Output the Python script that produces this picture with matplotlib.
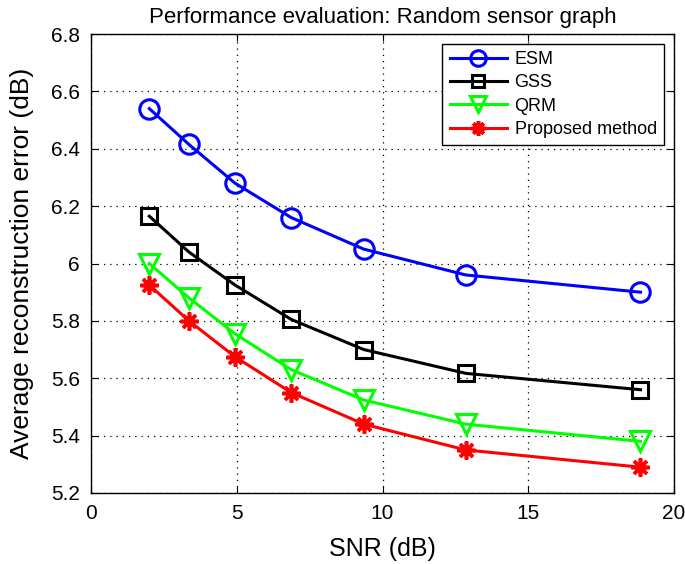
import matplotlib
matplotlib.use('Agg')
import matplotlib.pyplot as plt

snr = [2.0, 3.36, 4.94, 6.87, 9.36, 12.86, 18.85]
esm = [6.54, 6.415, 6.28, 6.16, 6.05, 5.96, 5.90]
gss = [6.165, 6.04, 5.925, 5.805, 5.70, 5.617, 5.56]
qrm = [6.0, 5.88, 5.755, 5.63, 5.524, 5.44, 5.38]
proposed = [5.925, 5.80, 5.675, 5.55, 5.44, 5.35, 5.29]

xticks = [0, 5, 10, 15, 20]
yticks = [5.2, 5.4, 5.6, 5.8, 6.0, 6.2, 6.4, 6.6, 6.8]
ytick_labels = ['5.2', '5.4', '5.6', '5.8', '6', '6.2', '6.4', '6.6', '6.8']

plt.rcParams['font.family'] = ['Liberation Sans', 'DejaVu Sans']
plt.rcParams['font.size'] = 12

fig = plt.figure(figsize=(6.85, 5.64), dpi=100)
ax = fig.add_axes([91/685, 1 - 493/564, 583/685, 459/564])

lw = 2.2
mew = 2.2
ax.plot(snr, esm, '-o', color='#0000ff', lw=lw, ms=14, mew=mew, mfc='none', label='ESM')
ax.plot(snr, gss, '-s', color='black', lw=lw, ms=11.5, mew=mew, mfc='none', label='GSS')
ax.plot(snr, qrm, '-v', color='#00ff00', lw=lw, ms=14, mew=mew, mfc='none', label='QRM')
ax.plot(snr, proposed, '-', marker=(8, 2, 0), color='#ff0000', lw=lw, ms=13, mew=2.6,
        label='Proposed method')

ax.set_xlim(0, 20)
ax.set_ylim(5.2, 6.8)
ax.set_xticks(xticks)
ax.set_yticks(yticks)
ax.set_yticklabels(ytick_labels)
ax.tick_params(direction='in', top=True, right=True, labelsize=15, length=5, pad=8)
ax.grid(True, linestyle=(0, (1, 4)), color='black', lw=0.9)
for s in ax.spines.values():
    s.set_linewidth(1.0)

ax.set_xlabel('SNR (dB)', fontsize=18, labelpad=10)
ax.set_ylabel('Average reconstruction error (dB)', fontsize=19, labelpad=12)
ax.set_title('Performance evaluation: Random sensor graph', fontsize=16, pad=8)

leg = ax.legend(loc='upper right', fontsize=13, fancybox=False, framealpha=1,
                edgecolor='black', handlelength=3.2, borderpad=0.4, markerscale=0.8,
                labelspacing=0.35, handletextpad=0.4, borderaxespad=0.55)
leg.get_frame().set_linewidth(1.0)

fig.savefig('out.png', dpi=100)
